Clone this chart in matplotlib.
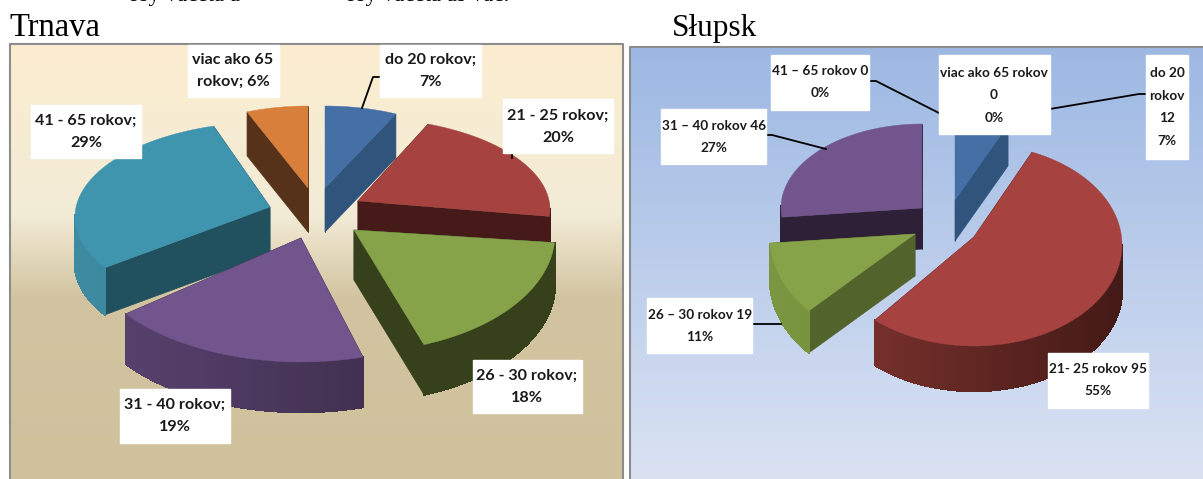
import numpy as np
import matplotlib
matplotlib.use("Agg")
import matplotlib.pyplot as plt
from matplotlib.colors import LinearSegmentedColormap, to_rgb
from matplotlib.patches import Polygon

W, H = 1203, 479

# Trnava, percent
trnava_names = ["do 20 rokov", "21 - 25 rokov", "26 - 30 rokov", "31 - 40 rokov", "41 - 65 rokov", "viac ako 65 rokov"]
trnava_values = [7, 20, 18, 19, 29, 6]

# Slupsk, counts (percent shown in the labels)
slupsk_names = ["do 20 rokov", "21 - 25 rokov", "26 - 30 rokov", "31 - 40 rokov", "41 - 65 rokov", "viac ako 65 rokov"]
slupsk_values = [12, 95, 19, 46, 0, 0]
slupsk_percent = [7, 55, 11, 27, 0, 0]

# per slice layout: apex x, apex y, rx, ry, centre shift y, depth, angle shift
trnava_layout = [
    (325, 188, 165, 82, 0, 44, 0),
    (358, 201, 192, 92, 8.7, 30, -4),
    (354, 230, 201, 118, 4, 50, -4),
    (301, 238, 220, 122, 2, 50, 0),
    (270, 207, 195, 95, 10, 47, 5),
    (308, 188, 164, 82, 0, 44, 0),
]
trnava_order = [5, 0, 4, 1, 3, 2]
trnava_colors = [
    ("#4470a6", "#31547d", "#31547d", "#31547d"),
    ("#a64341", "#451a18", "#451a18", "#451a18"),
    ("#87a34a", "#36411c", "#36411c", "#36411c"),
    ("#71558c", "#35263f", "#5a4472", "#35263f"),
    ("#3f94ae", "#21505f", "#3d8aa1", "#3a8298"),
    ("#d77f3b", "#57321a", "#57321a", "#57321a"),
]

slupsk_layout = [
    (955, 200, 125, 83, 0, 41, 0),
    (974, 237, 148, 101, 8, 45, -2),
    (915, 234, 145, 108, 3, 42, 3),
    (922, 208, 141, 84, 0, 41, 0),
    (0, 0, 1, 1, 0, 0, 0),
    (0, 0, 1, 1, 0, 0, 0),
]
slupsk_order = [0, 3, 2, 1]
slupsk_colors = [
    ("#4470a6", "#31547d", "#31547d", "#31547d"),
    ("#a64341", "#451a18", "#7f3430", "#441a16"),
    ("#87a34a", "#52632c", "#7a9640", "#6d8739"),
    ("#71558c", "#2e2137", "#2e2137", "#2e2137"),
    ("#000000", "#000000", "#000000", "#000000"),
    ("#000000", "#000000", "#000000", "#000000"),
]

trnava_labels = [
    ("viac ako 65\nrokov; 6%", 233, 71, 188, 45, 279, 97),
    ("do 20 rokov;\n7%", 431, 71, 380, 45, 481, 97),
    ("21 - 25 rokov;\n20%", 558, 127, 503, 99, 613, 153),
    ("41 - 65 rokov;\n29%", 86, 132, 31, 105, 141, 158),
    ("26 - 30 rokov;\n18%", 527, 387, 473, 360, 582, 413),
    ("31 - 40 rokov;\n19%", 175, 416, 120, 389, 230, 443),
]
slupsk_labels = [
    ("41 \u2013 65 rokov 0\n0%", 820, 82, 771, 55, 869, 110),
    ("viac ako 65 rokov\n0\n0%", 994, 95, 939, 55, 1050, 134),
    ("do 20\nrokov\n12\n7%", 1167, 107, 1146, 55, 1188, 159),
    ("31 \u2013 40 rokov 46\n27%", 714, 137, 661, 109, 766, 164),
    ("26 \u2013 30 rokov 19\n11%", 700, 326, 647, 298, 752, 353),
    ("21- 25 rokov 95\n55%", 1098, 380, 1048, 353, 1148, 408),
]
leaders = [
    [(379, 77), (373, 77), (362, 108)],
    [(512, 153), (512, 158)],
    [(870, 81), (876, 81), (939, 113)],
    [(1145, 94), (1139, 94), (1050, 109)],
    [(766, 135), (772, 135), (826, 149)],
    [(753, 324), (781, 324)],
]


def gradient(ax, x0, y0, x1, y1, stops):
    cmap = LinearSegmentedColormap.from_list("bg", stops)
    grad = np.linspace(0, 1, 256).reshape(-1, 1)
    ax.imshow(grad, cmap=cmap, extent=(x0, x1, y1, y0), aspect="auto", zorder=0)
    ax.plot([x0, x0, x1, x1], [y1, y0, y0, y1], color="#8c8c8c", lw=1.5, zorder=1)


def draw_slice(ax, t0, t1, layout, colors):
    ax_, ay, rx, ry, cy, depth, shift = layout
    top, wall, rim0, rim1 = colors
    th = np.radians(np.linspace(t0 + shift, t1 + shift, 120))
    xs = ax_ + rx * np.sin(th)
    ys = ay + cy - ry * np.cos(th)

    # cut faces first, the top face covers whatever is hidden
    for x, y in [(xs[0], ys[0]), (xs[-1], ys[-1])]:
        ax.add_patch(Polygon([(ax_, ay), (x, y), (x, y + depth), (ax_, ay + depth)],
                             fc=wall, ec=wall, lw=0.5, zorder=2))

    # outer rim, only the part that faces the viewer
    rgb0, rgb1 = np.array(to_rgb(rim0)), np.array(to_rgb(rim1))
    x_min, x_max = ax_ - rx, ax_ + rx
    for i in range(len(th) - 1):
        if np.cos(th[i]) > 0.02:
            continue
        f = (xs[i] - x_min) / (x_max - x_min)
        col = rgb0 + (rgb1 - rgb0) * f
        ax.add_patch(Polygon([(xs[i], ys[i]), (xs[i + 1], ys[i + 1]),
                              (xs[i + 1], ys[i + 1] + depth), (xs[i], ys[i] + depth)],
                             fc=col, ec=col, lw=1.0, antialiased=False, zorder=2))

    ax.add_patch(Polygon(np.vstack([[ax_, ay], np.column_stack([xs, ys])]),
                         fc=top, ec=top, lw=0.3, zorder=2))


def draw_pie(ax, values, layouts, colors, order):
    total = sum(values)
    edges = np.concatenate([[0], np.cumsum(values)]) / total * 360
    for i in order:
        if values[i] == 0:
            continue
        draw_slice(ax, edges[i], edges[i + 1], layouts[i], colors[i])


def draw_labels(ax, labels, size, spacing):
    for text, x, y, x0, y0, x1, y1 in labels:
        ax.fill([x0, x1, x1, x0], [y0, y0, y1, y1], color="white", zorder=4)
        ax.text(x, y, text, ha="center", va="center", fontsize=size, fontweight="bold",
                family="Lato", color="#1a1a1a", linespacing=spacing, zorder=5)


fig = plt.figure(figsize=(W / 100, H / 100), dpi=100)
ax = fig.add_axes([0, 0, 1, 1])

gradient(ax, 9.5, 44, 623, 482, [(0, "#fcedd0"), (0.39, "#f2ebd6"), (0.58, "#d2c4a0"), (1, "#cfc19c")])
gradient(ax, 630, 47, 1206, 482, [(0, "#9db8e3"), (1, "#dbe3f3")])

draw_pie(ax, trnava_values, trnava_layout, trnava_colors, trnava_order)
draw_pie(ax, slupsk_values, slupsk_layout, slupsk_colors, slupsk_order)

for pts in leaders:
    ax.plot(*zip(*pts), color="black", lw=1.3, zorder=3)

draw_labels(ax, trnava_labels, 11.6, 1.7)
draw_labels(ax, slupsk_labels, 9.8, 2.05)

ax.text(9, 35.5, "Trnava", fontsize=23.5, family="Liberation Serif", va="baseline", color="black")
ax.text(672, 35.5, "S\u0142upsk", fontsize=22.5, family="Liberation Serif", va="baseline", color="black")

# line above is cut off by the top of the picture, only the descenders show
ax.text(128, 0.5, "osy vaceta a", fontsize=16.5, family="Liberation Serif", va="baseline", color="black")
ax.text(345, 0.5, "osy vaceta as vac.", fontsize=16.5, family="Liberation Serif", va="baseline", color="black")

ax.set_xlim(0, W)
ax.set_ylim(H, 0)
ax.axis("off")
fig.savefig("out.png", dpi=100)
